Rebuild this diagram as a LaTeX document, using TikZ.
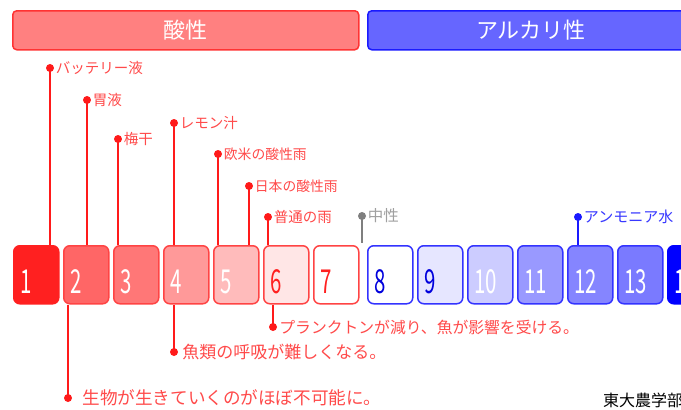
\documentclass[tikz,border=0pt]{standalone}
\usepackage{fontspec}
\usepackage{graphicx}
\setmainfont{Noto Sans CJK JP}
\definecolor{acidH}{HTML}{FF8080}
\definecolor{acidD}{HTML}{FF3333}
\definecolor{baseH}{HTML}{6666FF}
\definecolor{baseD}{HTML}{1A1AFF}
\definecolor{bR}{HTML}{FF4444}
\definecolor{bB}{HTML}{3333FF}
\definecolor{c1}{HTML}{FF2020}
\definecolor{c2}{HTML}{FF6666}
\definecolor{c3}{HTML}{FF7777}
\definecolor{c4}{HTML}{FF9999}
\definecolor{c5}{HTML}{FFBBBB}
\definecolor{c6}{HTML}{FFE6E6}
\definecolor{c9}{HTML}{E6E6FF}
\definecolor{c10}{HTML}{CCCCFF}
\definecolor{c11}{HTML}{9999FF}
\definecolor{c12}{HTML}{8585FF}
\definecolor{c13}{HTML}{7A7AFF}
\definecolor{c14}{HTML}{0000FF}
\definecolor{numR}{HTML}{FF2020}
\definecolor{numB}{HTML}{0000DD}
\definecolor{lineR}{HTML}{FF1A1A}
\definecolor{labR}{HTML}{FF4A4A}
\definecolor{lineB}{HTML}{1A1AFF}
\definecolor{labB}{HTML}{3838FF}
\definecolor{grayL}{HTML}{7F7F7F}
\definecolor{grayT}{HTML}{A0A0A0}
\begin{document}
\begin{tikzpicture}[x=1pt,y=-1pt,
  hdr/.style={draw, line width=1.5pt, rounded corners=4pt, minimum height=39pt, inner sep=0pt, anchor=north west, text=white, font=\fontsize{22}{22}\selectfont},
  phbox/.style={draw, line width=1.5pt, rounded corners=6pt, minimum width=45pt, minimum height=58pt, inner sep=0pt, anchor=north west},
  num/.style={anchor=base west, inner sep=0pt, font=\fontsize{33}{33}\selectfont},
  dotR/.style={circle, fill=lineR, inner sep=0pt, minimum size=8pt},
  dotB/.style={circle, fill=lineB, inner sep=0pt, minimum size=8pt},
  dotG/.style={circle, fill=grayL, inner sep=0pt, minimum size=8pt},
  lnR/.style={draw=lineR, line width=2pt},
  lnB/.style={draw=lineB, line width=2pt},
  lnG/.style={draw=grayL, line width=2.2pt},
  topl/.style={anchor=west, inner sep=1.5pt, font=\fontsize{14.5}{14.5}\selectfont},
  botl/.style={anchor=west, inner sep=2pt}
]
\clip (0,0) rectangle (681,410);
\fill[white] (0,0) rectangle (681,410);

% headers
\node[hdr, fill=acidH, draw=acidD, minimum width=346pt] (acid) at (12,10) {酸性};
\node[hdr, fill=baseH, draw=baseD, minimum width=326pt] (base) at (367,10) {アルカリ性};

% pH boxes
\foreach \i/\x/\fc/\dc/\tc in {1/13/c1/c1/white, 2/63/c2/bR/white, 3/113/c3/bR/white, 4/163/c4/bR/white, 5/213/c5/bR/white, 6/263/c6/bR/numR, 7/313/white/bR/numR, 8/367/white/bB/numB, 9/417/c9/bB/numB, 10/467/c10/bB/white, 11/517/c11/bB/white, 12/567/c12/bB/white, 13/617/c13/bB/white, 14/667/c14/c14/white}{
  \node[phbox, fill=\fc, draw=\dc] (p\i) at (\x,245) {};
  \node[num, text=\tc] (n\i) at ({\x+7},293) {\scalebox{0.62}[1]{\i}};
}

% top labels
\node[dotR] (a1) at (50,68) {};
\node[dotR] (a2) at (87,100) {};
\node[dotR] (a3) at (118,139) {};
\node[dotR] (a4) at (174,123) {};
\node[dotR] (a5) at (218,154) {};
\node[dotR] (a6) at (249,186) {};
\node[dotR] (a7) at (268,217) {};
\draw[lnR] (a1.center) -- (a1.center |- p1.north);
\draw[lnR] (a2.center) -- (a2.center |- p2.north);
\draw[lnR] (a3.center) -- (a3.center |- p3.north);
\draw[lnR] (a4.center) -- (a4.center |- p4.north);
\draw[lnR] (a5.center) -- (a5.center |- p5.north);
\draw[lnR] (a6.center) -- (a6.center |- p5.north);
\draw[lnR] (a7.center) -- (a7.center |- p6.north);
\node[topl, text=labR] (t1) at (a1.east) {バッテリー液};
\node[topl, text=labR] (t2) at (a2.east) {胃液};
\node[topl, text=labR] (t3) at (a3.east) {梅干};
\node[topl, text=labR] (t4) at (a4.east) {レモン汁};
\node[topl, text=labR, font=\fontsize{13.8}{13.8}\selectfont] (t5) at (a5.east) {欧米の酸性雨};
\node[topl, text=labR, font=\fontsize{13.8}{13.8}\selectfont] (t6) at (a6.east) {日本の酸性雨};
\node[topl, text=labR] (t7) at (a7.east) {普通の雨};

% neutral
\node[dotG] (g) at (362,216) {};
\draw[lnG] (g.center) -- ([yshift=2pt]g.center |- p8.north);
\node[topl, text=grayT, font=\fontsize{15.5}{15.5}\selectfont] (tg) at (g.east) {中性};

% ammonia
\node[dotB] (b12) at (578,217) {};
\draw[lnB] (b12.center) -- (b12.center |- p12.north);
\node[topl, text=labB, font=\fontsize{15}{15}\selectfont] (tb) at (b12.east) {アンモニア水};

% bottom labels
\node[dotR] (e6) at (273,327) {};
\node[dotR] (e4) at (174,352) {};
\node[dotR] (e2) at (68,398) {};
\draw[lnR] (e6.center) -- (e6.center |- p6.south);
\draw[lnR] (e4.center) -- (e4.center |- p4.south);
\draw[lnR] (e2.center) -- (e2.center |- p2.south);
\node[botl, text=labR, font=\fontsize{15.8}{15.8}\selectfont] (u6) at (e6.east) {プランクトンが減り、魚が影響を受ける。};
\node[botl, text=labR, font=\fontsize{17}{17}\selectfont] (u4) at ([xshift=2pt]e4.east) {魚類の呼吸が難しくなる。};
\node[botl, text=labR, font=\fontsize{17.6}{17.6}\selectfont] (u2) at ([xshift=8pt]e2.east) {生物が生きていくのがほぼ不可能に。};

% source
\node[anchor=base west, inner sep=0pt, font=\fontsize{16}{16}\selectfont] (src) at (603,406) {東大農学部};
\end{tikzpicture}
\end{document}
